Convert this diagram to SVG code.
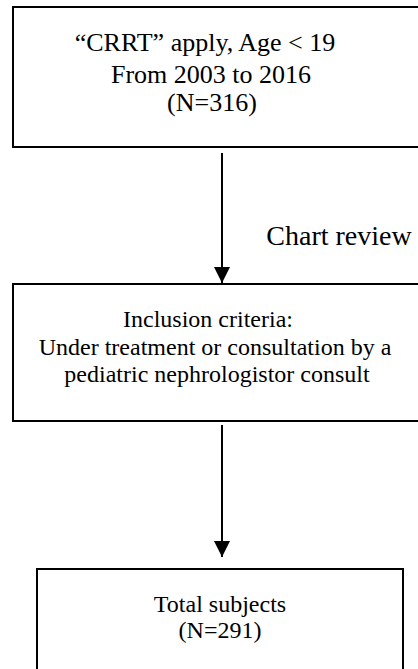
<svg xmlns="http://www.w3.org/2000/svg" width="418" height="669" viewBox="0 0 418 669">
<style>
.box{fill:#ffffff;stroke:#000000;stroke-width:2}
.t{font-family:"Liberation Serif","Times New Roman",serif;fill:#000000;text-anchor:middle}
.c{stroke:#000000;stroke-width:2;fill:none}
</style>
<defs>
<marker id="ah" viewBox="0 0 16 16" refX="16" refY="8" markerWidth="16" markerHeight="16" markerUnits="userSpaceOnUse" orient="auto">
<path d="M0,0 L16,8 L0,16 Z" fill="#000000"/>
</marker>
</defs>
<rect width="418" height="669" fill="#ffffff"/>
<g id="node-source">
<rect class="box" x="13" y="7" width="420" height="140"/>
<text class="t" font-size="26" x="205" y="51">“CRRT” apply, Age &lt; 19</text>
<text class="t" font-size="26" x="211" y="83">From 2003 to 2016</text>
<text class="t" font-size="26" x="212" y="111">(N=316)</text>
</g>
<g id="node-inclusion">
<rect class="box" x="13" y="284" width="420" height="137"/>
<text class="t" font-size="24" x="208" y="327">Inclusion criteria:</text>
<text class="t" font-size="24" x="215" y="355">Under treatment or consultation by a</text>
<text class="t" font-size="24" x="217" y="382">pediatric nephrologistor consult</text>
</g>
<g id="node-total">
<rect class="box" x="37" y="569" width="366" height="120"/>
<text class="t" font-size="24" x="220" y="612">Total subjects</text>
<text class="t" font-size="24" x="220" y="638">(N=291)</text>
</g>
<g id="connectors">
<line class="c" x1="222" y1="153" x2="222" y2="283" marker-end="url(#ah)"/>
<text class="t" font-size="28" x="339" y="245">Chart review</text>
<line class="c" x1="222" y1="425" x2="222" y2="557" marker-end="url(#ah)"/>
</g>
</svg>
